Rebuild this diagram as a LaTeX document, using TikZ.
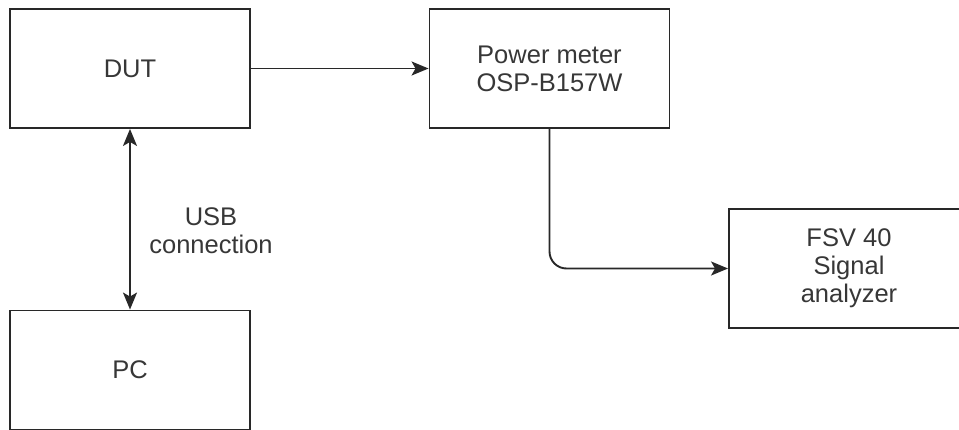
\documentclass[tikz,border=0pt]{standalone}
\usepackage{fontspec}
\setmainfont{Liberation Sans}
\usetikzlibrary{arrows.meta}
\definecolor{edge}{RGB}{40,40,40}
\definecolor{txt}{RGB}{55,55,55}

\begin{document}
\begin{tikzpicture}[x=1pt,y=-1pt,
  block/.style={draw=edge, line width=1.9pt, minimum width=240pt, minimum height=119pt,
    align=center, text=txt, font=\fontsize{25.5}{28}\selectfont, inner sep=0pt},
  link/.style={draw=edge, line width=1.9pt, -{Stealth[length=17pt,width=14pt,inset=4pt]}}]
\useasboundingbox (0,0) rectangle (959,429);

\node[block] (dut) at (130,68.5) {DUT};
\node[block] (pc) at (130,370) {PC};
\node[block] (meter) at (549.5,68.5) {Power meter\\OSP-B157W};
\node[block] (fsv) at (849,268.5) {FSV 40\\Signal\\analyzer};
\node[align=center, text=txt, font=\fontsize{25.5}{28}\selectfont] (usb) at (211,231) {USB\\connection};

\draw [link] (dut.east)--(meter.west);
\draw [link, {Stealth[length=17pt,width=14pt,inset=4pt]}-{Stealth[length=17pt,width=14pt,inset=4pt]}] (dut.south)--(pc.north);
\draw [link, rounded corners=17pt] (meter.south) |- (fsv.west);

\end{tikzpicture}
\end{document}
